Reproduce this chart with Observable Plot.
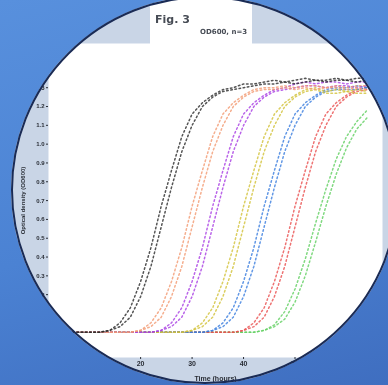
<!DOCTYPE html>
<html><head><meta charset="utf-8">
<script src="https://cdn.jsdelivr.net/npm/d3@7"></script>
<script src="https://cdn.jsdelivr.net/npm/@observablehq/plot@0.6"></script>
<style>
html,body{margin:0;padding:0;width:388px;height:385px;overflow:hidden;background:linear-gradient(165deg,#5890dd 0%,#4b82d3 55%,#3f6ec0 100%);}
#wrap{position:absolute;left:0;top:0;width:388px;height:385px;clip-path:circle(194px at 205px 190px);filter:blur(0.6px);}
#titlebox{position:absolute;left:150px;top:0;width:102px;height:45px;background:#fff;}
#title{position:absolute;left:155px;top:13px;font:bold 11px "DejaVu Sans",sans-serif;color:#474c55;}
#sub{position:absolute;left:200px;top:28px;font:bold 7px "DejaVu Sans",sans-serif;color:#474c55;}
#ring{position:absolute;left:11px;top:-4px;width:388px;height:388px;border-radius:50%;border:2px solid #1a2b55;box-sizing:border-box;filter:blur(0.5px);}
</style></head>
<body>
<div id="wrap"><div id="chart"></div><div id="titlebox"></div><div id="title">Fig. 3</div><div id="sub">OD600, n=3</div></div>
<div id="ring"></div>
<script>
const timeH = [6,8,10,12,14,16,18,20,22,24,26,28,30,32,34,36,38,40,42,44,46,48,50,52,54,56,58,60,62,64];
const xTicks = [10,20,30,40,50,60];
const yTicks = [0,0.1,0.2,0.3,0.4,0.5,0.6,0.7,0.8,0.9,1.0,1.1,1.2,1.3,1.4,1.5];
const seriesNames = ["Strain G","Strain F","Strain E","Strain D","Strain C","Strain B","Strain A"];
const seriesColors = ["#62d062","#ea5050","#3a7ddf","#d2c238","#a93fe4","#f39a72","#2a2a2a"];

const blackA = [0,0,0,0,.01,.05,.13,.27,.45,.67,.86,1.04,1.16,1.22,1.26,1.29,1.30,1.32,1.32,1.33,1.34,1.33,1.34,1.35,1.34,1.34,1.35,1.34,1.35,1.35];
const blackB = [0,0,0,0,.01,.03,.08,.19,.35,.56,.77,.96,1.10,1.20,1.25,1.28,1.29,1.30,1.31,1.32,1.32,1.33,1.32,1.33,1.34,1.33,1.34,1.34,1.33,1.34];
const orangeA = [0,0,0,0,0,0,0,.01,.05,.13,.27,.45,.67,.86,1.04,1.16,1.22,1.26,1.29,1.30,1.30,1.31,1.30,1.31,1.31,1.30,1.31,1.30,1.31,1.31];
const orangeB = [0,0,0,0,0,0,0,.01,.03,.08,.19,.35,.56,.77,.96,1.10,1.20,1.25,1.28,1.29,1.29,1.30,1.29,1.30,1.29,1.30,1.30,1.29,1.30,1.29];
const purpleA = [0,0,0,0,0,0,0,0,0,.01,.05,.13,.27,.45,.67,.86,1.04,1.16,1.22,1.26,1.29,1.30,1.32,1.33,1.32,1.33,1.33,1.32,1.33,1.33];
const purpleB = [0,0,0,0,0,0,0,0,0,.01,.03,.08,.19,.35,.56,.77,.96,1.10,1.20,1.25,1.28,1.29,1.30,1.31,1.31,1.30,1.31,1.31,1.30,1.31];
const yellowA = [0,0,0,0,0,0,0,0,0,0,0,0,.01,.05,.13,.27,.45,.67,.86,1.04,1.16,1.22,1.26,1.29,1.30,1.28,1.29,1.28,1.29,1.28];
const yellowB = [0,0,0,0,0,0,0,0,0,0,0,0,.01,.03,.08,.19,.35,.56,.77,.96,1.10,1.20,1.25,1.28,1.29,1.27,1.27,1.28,1.27,1.27];
const blueA = [0,0,0,0,0,0,0,0,0,0,0,0,0,0,.01,.05,.13,.27,.45,.67,.86,1.04,1.16,1.22,1.26,1.29,1.30,1.30,1.31,1.30];
const blueB = [0,0,0,0,0,0,0,0,0,0,0,0,0,0,.01,.03,.08,.19,.35,.56,.77,.96,1.10,1.20,1.25,1.28,1.29,1.29,1.29,1.30];
const redA = [0,0,0,0,0,0,0,0,0,0,0,0,0,0,0,0,0,.01,.05,.13,.27,.45,.67,.86,1.04,1.16,1.22,1.26,1.29,1.30];
const redB = [0,0,0,0,0,0,0,0,0,0,0,0,0,0,0,0,0,.01,.03,.08,.19,.35,.56,.77,.96,1.10,1.20,1.25,1.28,1.29];
const greenA = [0,0,0,0,0,0,0,0,0,0,0,0,0,0,0,0,0,0,0,.01,.04,.11,.23,.39,.58,.76,.92,1.04,1.12,1.18];
const greenB = [0,0,0,0,0,0,0,0,0,0,0,0,0,0,0,0,0,0,0,.01,.03,.07,.16,.30,.48,.67,.84,.98,1.08,1.14];

const reps = [[greenA,greenB],[redA,redB],[blueA,blueB],[yellowA,yellowB],[purpleA,purpleB],[orangeA,orangeB],[blackA,blackB]];
const rows = [];
reps.forEach((pair, si) => pair.forEach((arr, ri) => arr.forEach((v, i) => rows.push({series: seriesNames[si], rep: seriesNames[si] + ri, t: timeH[i], od: v}))));

const chart = Plot.plot({
  width: 388, height: 385,
  marginLeft: 48, marginRight: 6, marginTop: 43, marginBottom: 28,
  style: {background: "#c9d5e6", fontFamily: "Liberation Sans, sans-serif", color: "#2a2e36"},
  x: {domain: [2.1, 67]},
  y: {domain: [-0.134, 1.535]},
  color: {domain: seriesNames, range: seriesColors},
  marks: [
    Plot.frame({fill: "white", stroke: null}),
    Plot.axisX({ticks: xTicks, tickSize: 2, tickPadding: 2, fontSize: 7, fontWeight: "bold", label: "Time (hours)", labelAnchor: "center", labelOffset: 23, labelArrow: "none"}),
    Plot.axisY({ticks: yTicks, tickFormat: ".1f", tickSize: 2, tickPadding: 2, fontSize: 6, fontWeight: "bold", label: "Optical density (OD600)", labelAnchor: "center", labelOffset: 28, labelArrow: "none"}),
    Plot.line(rows, {x: "t", y: "od", z: "rep", stroke: "series", strokeWidth: 1.5, strokeDasharray: "1.6,2.6", strokeOpacity: 0.8})
  ]
});
document.getElementById("chart").appendChild(chart);
</script>
</body></html>
